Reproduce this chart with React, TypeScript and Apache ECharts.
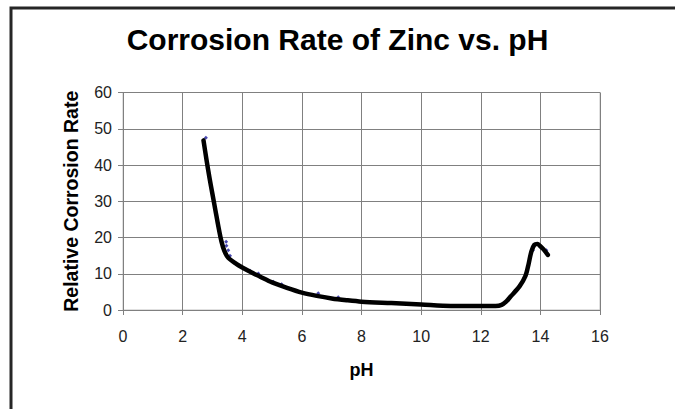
import React, { useEffect, useRef } from "react";
import * as echarts from "echarts";

const TITLE = "Corrosion Rate of Zinc vs. pH";
const X_NAME = "pH";
const Y_NAME = "Relative Corrosion Rate";

// Fitted curve (black line)
const curvePH = [2.7, 2.8, 2.9, 3.0, 3.1, 3.2, 3.3, 3.4, 3.53, 3.8, 4.0, 4.3, 4.6, 5.0, 5.5, 6.0, 6.5, 7.0, 7.5, 8.0, 9.0, 10.0, 11.0, 12.0, 12.5, 12.7, 12.85, 13.0, 13.3, 13.5, 13.6, 13.7, 13.8, 13.9, 14.0, 14.1, 14.25];
const curveRate = [46.8, 41.5, 36.5, 32.0, 27.5, 23.0, 19.0, 16.3, 14.4, 12.7, 11.7, 10.4, 9.2, 7.6, 6.1, 4.8, 3.9, 3.2, 2.7, 2.3, 1.9, 1.5, 1.1, 1.1, 1.1, 1.4, 2.3, 3.7, 6.5, 9.4, 12.5, 16.2, 18.0, 18.2, 17.6, 16.8, 15.2];

// Measured data points (blue markers)
const pointPH = [2.78, 3.46, 3.47, 3.53, 3.59, 4.26, 4.54, 5.04, 5.32, 5.64, 6.55, 7.22, 13.0, 13.32, 13.55, 13.75, 14.2];
const pointRate = [47.5, 18.8, 17.7, 16.5, 15.0, 10.8, 10.1, 7.8, 7.1, 5.8, 4.6, 3.5, 3.7, 6.9, 10.6, 16.5, 16.5];

const X_MIN = 0, X_MAX = 16, X_STEP = 2;
const Y_MIN = 0, Y_MAX = 60, Y_STEP = 10;

const FONT = "'Liberation Sans', Arial, sans-serif";

export default function App() {
  const ref = useRef<HTMLDivElement>(null);
  useEffect(() => {
    if (!ref.current) return;
    const chart = echarts.init(ref.current, undefined, { renderer: "svg" });
    const curve = curvePH.map((x, i) => [x, curveRate[i]]);
    const points = pointPH.map((x, i) => [x, pointRate[i]]);
    chart.setOption({
      animation: false,
      backgroundColor: "#ffffff",
      textStyle: { fontFamily: FONT },
      title: {
        text: TITLE,
        left: "center",
        top: 19,
        textStyle: { fontFamily: FONT, fontSize: 30, fontWeight: "bold", color: "#000" },
      },
      graphic: [
        {
          type: "polyline",
          shape: { points: [[11, 420], [11, 8], [690, 8]] },
          style: { stroke: "#262626", lineWidth: 3, fill: "none" },
          silent: true,
        },
      ],
      grid: { left: 123, right: 75, top: 92.5, bottom: 99, show: true, borderColor: "#c0c0c0", borderWidth: 1 },
      xAxis: {
        type: "value",
        min: X_MIN,
        max: X_MAX,
        interval: X_STEP,
        name: X_NAME,
        nameLocation: "middle",
        nameGap: 51,
        nameTextStyle: { fontFamily: FONT, fontSize: 18, fontWeight: "bold", color: "#000" },
        axisLine: { show: true, lineStyle: { color: "#808080", width: 1 } },
        axisTick: { show: true, length: 5, lineStyle: { color: "#808080" } },
        axisLabel: { margin: 18, fontFamily: FONT, fontSize: 16, color: "#222" },
        splitLine: { show: true, lineStyle: { color: "#808080", width: 1 } },
      },
      yAxis: {
        type: "value",
        min: Y_MIN,
        max: Y_MAX,
        interval: Y_STEP,
        name: Y_NAME,
        nameLocation: "middle",
        nameGap: 42.5,
        nameTextStyle: { fontFamily: FONT, fontSize: 19.5, fontWeight: "bold", color: "#000" },
        axisLine: { show: true, lineStyle: { color: "#808080", width: 1 } },
        axisTick: { show: true, length: 5, lineStyle: { color: "#808080" } },
        axisLabel: { margin: 11, fontFamily: FONT, fontSize: 16, color: "#222" },
        splitLine: { show: true, lineStyle: { color: "#808080", width: 1 } },
      },
      series: [
        {
          type: "scatter",
          data: points,
          symbol: "diamond",
          symbolSize: 4,
          itemStyle: { color: "#1a1a9c" },
          z: 2,
        },
        {
          type: "line",
          data: curve,
          showSymbol: false,
          symbol: "none",
          smooth: 0.3,
          lineStyle: { color: "#000", width: 4.5, cap: "round", join: "round" },
          z: 3,
        },
      ],
    });
    return () => chart.dispose();
  }, []);
  return <div ref={ref} style={{ width: 675, height: 409, position: "absolute", left: 0, top: 0 }} />;
}
